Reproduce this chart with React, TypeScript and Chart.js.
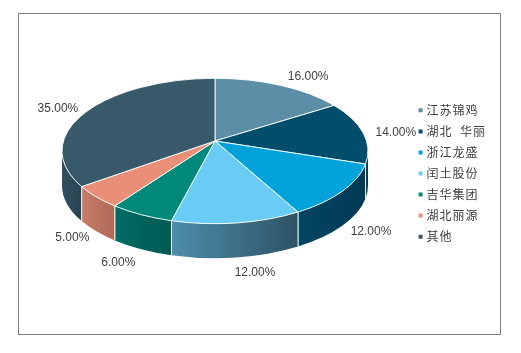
import React, { useEffect, useRef } from "react";
import { Chart, registerables } from "chart.js";

Chart.register(...registerables);

const categories = ["江苏锦鸡", "湖北  华丽", "浙江龙盛", "闰土股份", "吉华集团", "湖北丽源", "其他"];
const shares = [16, 14, 12, 12, 6, 5, 35];
const topColors = ["#5c8ea8", "#014e6c", "#00a2da", "#69ccf5", "#00897b", "#e98f78", "#38596a"];
const wallStops = [
  ["#4a7a92", "#3a6478"],
  ["#013f58", "#013f58"],
  ["#024563", "#013a54"],
  ["#4c8dab", "#2e5365"],
  ["#006c64", "#005a52"],
  ["#c67c68", "#b06a58"],
  ["#30505f", "#2a4250"],
];

// Projection of the pie's disc
const CX = 215;
const CY = 151;
const RX = 153;
const RY = 72.7;
const BETA = -10 / 72.7;
const DEPTH = 34.5;
const LABEL_OFFSETS = [
  [28, -9],
  [33, 0.5],
  [28, 41],
  [18, 50],
  [-23, 48],
  [-24, 41],
  [-30, -2],
];

const rimPoint = (theta: number) => {
  // theta: chart.js angle (0 = +x, clockwise)
  const x = Math.cos(theta);
  const y = Math.sin(theta);
  const d = 1 + BETA * y;
  return {
    ux: (x * Math.sqrt(1 - BETA * BETA)) / d,
    uy: (y + BETA) / d,
  };
};
const paramOf = (theta: number) => {
  const p = rimPoint(theta);
  return Math.atan2(p.uy, p.ux);
};

const pie3d = {
  id: "pie3d",
  beforeDraw(chart: any) {
    const { ctx } = chart;
    ctx.save();
    ctx.strokeStyle = "#7f7f7f";
    ctx.lineWidth = 1;
    ctx.strokeRect(18.5, 13.5, 482, 321);
    ctx.restore();
    // the legend is drawn next, with its wide character pitch
    ctx.letterSpacing = "1px";
  },
  beforeDatasetDraw(chart: any) {
    const { ctx } = chart;
    ctx.letterSpacing = "0px";
    const arcs = chart.getDatasetMeta(0).data;
    const apexX = CX;
    const apexY = CY + BETA * RY;

    // walls
    arcs.forEach((arc: any, i: number) => {
      let a0 = paramOf(arc.startAngle);
      let a1 = paramOf(arc.endAngle);
      while (a0 < -Math.PI / 2 - 1e-6) a0 += Math.PI * 2;
      while (a1 <= a0) a1 += Math.PI * 2;
      // visible wall: param in [0, PI]
      const s = Math.max(a0, 0);
      const e = Math.min(a1, Math.PI);
      const ranges: [number, number][] = [];
      if (e > s) ranges.push([s, e]);
      ranges.forEach(([p0, p1]) => {
        ctx.save();
        ctx.beginPath();
        ctx.ellipse(CX, CY, RX, RY, 0, p0, p1, false);
        ctx.ellipse(CX, CY + DEPTH, RX, RY, 0, p1, p0, true);
        ctx.closePath();
        const xA = CX + RX * Math.cos(p0);
        const xB = CX + RX * Math.cos(p1);
        const g = ctx.createLinearGradient(xB, 0, xA, 0);
        g.addColorStop(0, wallStops[i][0]);
        g.addColorStop(1, wallStops[i][1]);
        ctx.fillStyle = g;
        ctx.fill();
        ctx.restore();
        // wall separators
        ctx.save();
        ctx.strokeStyle = "rgba(255,255,255,0.85)";
        ctx.lineWidth = 1;
        [a0, a1].forEach((p) => {
          const n = ((p % (2 * Math.PI)) + 2 * Math.PI) % (2 * Math.PI);
          if (n > 0.02 && n < Math.PI - 0.02) {
            const x = CX + RX * Math.cos(n);
            const y = CY + RY * Math.sin(n);
            ctx.beginPath();
            ctx.moveTo(x, y);
            ctx.lineTo(x, y + DEPTH);
            ctx.stroke();
          }
        });
        ctx.restore();
      });
    });

    // top faces
    arcs.forEach((arc: any, i: number) => {
      const a0 = paramOf(arc.startAngle);
      const a1 = paramOf(arc.endAngle);
      ctx.beginPath();
      ctx.moveTo(apexX, apexY);
      ctx.ellipse(CX, CY, RX, RY, 0, a0, a1, false);
      ctx.closePath();
      ctx.fillStyle = topColors[i];
      ctx.fill();
      ctx.strokeStyle = "rgba(255,255,255,0.9)";
      ctx.lineWidth = 1;
      ctx.stroke();
    });

    // labels
    ctx.save();
    ctx.font = '12px "Liberation Sans"';
    ctx.fillStyle = "#404040";
    ctx.textAlign = "center";
    ctx.textBaseline = "middle";
    arcs.forEach((arc: any, i: number) => {
      const p = rimPoint((arc.startAngle + arc.endAngle) / 2);
      const x = CX + RX * p.ux + LABEL_OFFSETS[i][0];
      const y = CY + RY * p.uy + LABEL_OFFSETS[i][1];
      ctx.fillText(shares[i].toFixed(2) + "%", x, y);
    });
    ctx.restore();
    return false;
  },
};

export default function App() {
  const ref = useRef<HTMLCanvasElement>(null);
  useEffect(() => {
    const chart = new Chart(ref.current as HTMLCanvasElement, {
      type: "pie",
      data: {
        labels: categories,
        datasets: [{ data: shares, backgroundColor: topColors, borderWidth: 0 }],
      },
      options: {
        responsive: false,
        animation: false,
        layout: { padding: { top: 0, bottom: 6, right: 31, left: 0 } },
        plugins: {
          tooltip: { enabled: false },
          legend: {
            position: "right",
            labels: {
              usePointStyle: true,
              pointStyle: "rect",
              boxWidth: 0.01,
              boxHeight: 4,
              padding: 9.05,
              color: "#404040",
              font: { family: '"Noto Sans CJK SC"', size: 12 },
            },
          },
        },
      },
      plugins: [pie3d],
    } as any);
    return () => chart.destroy();
  }, []);
  return (
    <div style={{ position: "fixed", left: 0, top: 0, width: 521, height: 353, background: "#fff" }}>
      <canvas ref={ref} width={521} height={353} style={{ display: "block" }} />
    </div>
  );
}
